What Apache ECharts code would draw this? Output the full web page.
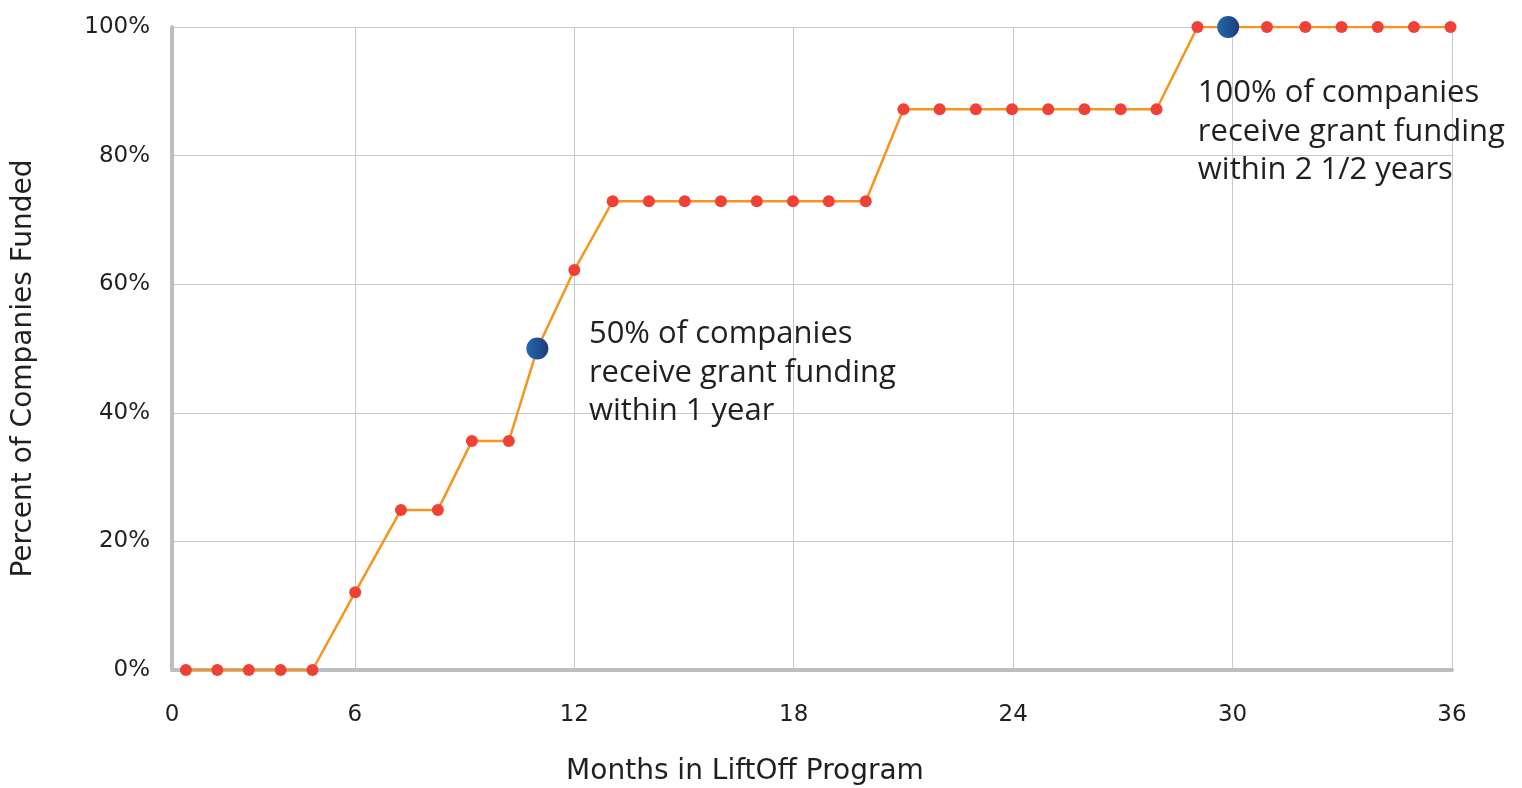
<!DOCTYPE html>
<html>
<head>
<meta charset="utf-8">
<script src="https://cdn.jsdelivr.net/npm/echarts@6/dist/echarts.min.js"></script>
<style>
html,body{margin:0;padding:0;background:#fff;}
#chart{width:1522px;height:788px;}
</style>
</head>
<body>
<div id="chart"></div>
<script>
// Months in program (x) for each observation
const months = [1.38, 2.24, 3.10, 3.97, 4.84, 6.01, 7.26, 8.27, 9.20, 10.21, 10.99, 12.0,
  13.05, 14.04, 15.02, 16.01, 16.99, 17.98, 18.96, 19.97, 21.0, 21.99, 22.98, 23.97,
  24.96, 25.95, 26.94, 27.92, 29.04, 29.88, 30.94, 31.99, 32.98, 33.97, 34.96, 35.96];
// Percent of companies funded
const percentFunded = [0, 0, 0, 0, 0, 12.1, 24.9, 24.9, 35.6, 35.6, 50, 62.2,
  72.9, 72.9, 72.9, 72.9, 72.9, 72.9, 72.9, 72.9, 87.2, 87.2, 87.2, 87.2,
  87.2, 87.2, 87.2, 87.2, 100, 100, 100, 100, 100, 100, 100, 100];
// Highlighted milestone points (indices into the arrays above)
const milestoneIdx = [10, 29];
const xTickValues = [1, 6, 12, 18, 24, 30, 36];
const xTickLabels = ['0', '6', '12', '18', '24', '30', '36'];
const annotations = [
  { x: 12.4, y: 55.2, text: '50% of companies\nreceive grant funding\nwithin 1 year' },
  { x: 29.05, y: 92.7, text: '100% of companies\nreceive grant funding\nwithin 2 1/2 years' }
];

const chart = echarts.init(document.getElementById('chart'), null, { renderer: 'canvas' });
const axisFont = '"DejaVu Sans", sans-serif';
const textColor = '#231f20';

const data = months.map((m, i) => {
  const d = { value: [m, percentFunded[i]] };
  if (milestoneIdx.includes(i)) {
    d.symbolSize = 22;
    d.itemStyle = {
      color: new echarts.graphic.LinearGradient(0, 0, 1, 0, [
        { offset: 0, color: '#2468ae' },
        { offset: 1, color: '#1d3c7c' }
      ])
    };
  }
  return d;
});

chart.setOption({
  animation: false,
  grid: { left: 172, right: 70, top: 27, bottom: 118, containLabel: false, outerBoundsMode: 'none' },
  xAxis: {
    type: 'value',
    min: 1,
    max: 36,
    name: 'Months in LiftOff Program',
    nameLocation: 'middle',
    nameGap: 88,
    nameTextStyle: { fontFamily: axisFont, fontSize: 28, color: textColor, padding: [0, 134, 0, 0] },
    axisLine: { show: true, lineStyle: { color: '#bcbec0', width: 4 } },
    axisTick: { show: false, customValues: xTickValues },
    axisLabel: {
      customValues: xTickValues,
      formatter: v => xTickLabels[xTickValues.indexOf(v)],
      fontFamily: axisFont, fontSize: 23, color: textColor, margin: 34
    },
    splitLine: { show: true, lineStyle: { color: '#c8c8c8', width: 1 } }
  },
  yAxis: {
    type: 'value',
    min: 0,
    max: 100,
    interval: 20,
    name: 'Percent of Companies Funded',
    nameLocation: 'middle',
    nameGap: 134,
    nameTextStyle: { fontFamily: axisFont, fontSize: 28, color: textColor, padding: [0, 40, 0, 0] },
    axisLine: { show: true, lineStyle: { color: '#bcbec0', width: 4 } },
    axisTick: { show: false },
    axisLabel: {
      formatter: '{value}%',
      fontFamily: axisFont, fontSize: 23, color: textColor, margin: 22
    },
    splitLine: { show: true, lineStyle: { color: '#c8c8c8', width: 1 } }
  },
  series: [{
    type: 'line',
    data: data,
    symbol: 'circle',
    symbolSize: 12,
    showSymbol: true,
    lineStyle: { color: '#f7941d', width: 2.5 },
    itemStyle: { color: '#ef4136' },
    z: 3
  }]
});

function placeAnnotations() {
  const elements = annotations.map(a => {
    const p = chart.convertToPixel({ gridIndex: 0 }, [a.x, a.y]);
    return {
      type: 'text',
      x: p[0], y: p[1],
      style: {
        text: a.text,
        fontFamily: '"Open Sans", sans-serif',
        fontSize: 31,
        lineHeight: 38.5,
        fill: textColor
      },
      z: 10
    };
  });
  chart.setOption({ graphic: elements });
}
placeAnnotations();
</script>
</body>
</html>
